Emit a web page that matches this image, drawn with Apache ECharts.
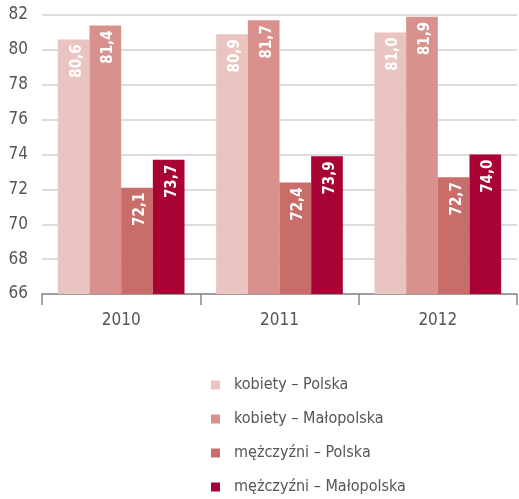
<!DOCTYPE html>
<html>
<head>
<meta charset="utf-8">
<script src="https://cdn.jsdelivr.net/npm/echarts@6/dist/echarts.min.js"></script>
<style>
  html, body { margin: 0; padding: 0; background: #fff; }
  #chart { width: 519px; height: 499px; }
</style>
</head>
<body>
<div id="chart"></div>
<script>
var years = ['2010', '2011', '2012'];
var kobietyPolska = [80.6, 80.9, 81.0];
var kobietyMalopolska = [81.4, 81.7, 81.9];
var mezczyzniPolska = [72.1, 72.4, 72.7];
var mezczyzniMalopolska = [73.7, 73.9, 74.0];
var seriesNames = ['kobiety – Polska', 'kobiety – Małopolska', 'mężczyźni – Polska', 'mężczyźni – Małopolska'];
var colors = ['#e9c4c0', '#d9918d', '#c86d69', '#a80334'];

var font = "'Liberation Sans Narrow', 'DejaVu Sans Condensed', sans-serif";

var chart = echarts.init(document.getElementById('chart'));

function makeSeries(name, data, color) {
    return {
        name: name,
        type: 'bar',
        data: data,
        barGap: '0%',
        barCategoryGap: '20%',
        itemStyle: { color: color },
        label: {
            show: true,
            position: 'insideTop',
            rotate: 90,
            align: 'right',
            verticalAlign: 'middle',
            offset: [0, 3],
            color: '#fff',
            fontFamily: font,
            fontWeight: 'bold',
            fontSize: 15,
            formatter: function (p) { return p.value.toFixed(1).replace('.', ','); }
        }
    };
}

var option = {
    animation: false,
    color: colors,
    grid: { left: 42, right: 2, top: 15, bottom: 205 },
    legend: {
        orient: 'vertical',
        left: 211,
        top: 376,
        height: 123,
        padding: 0,
        itemWidth: 9,
        itemHeight: 9,
        itemGap: 16,
        icon: 'rect',
        textStyle: { color: '#555', fontFamily: font, fontSize: 16, lineHeight: 18, padding: [0, 0, 0, 9] },
        data: seriesNames
    },
    xAxis: {
        type: 'category',
        data: years,
        axisLine: { lineStyle: { color: '#888', width: 1.5 } },
        axisTick: { show: true, length: 11, lineStyle: { color: '#888', width: 1.5 } },
        axisLabel: { color: '#555', fontFamily: font, fontSize: 17, margin: 18 }
    },
    yAxis: {
        type: 'value',
        min: 66,
        max: 82,
        interval: 2,
        axisLine: { show: false },
        axisTick: { show: false },
        axisLabel: { color: '#555', fontFamily: font, fontSize: 17, margin: 14 },
        splitLine: { lineStyle: { color: '#d0d0d0', width: 1.5 } }
    },
    series: [
        makeSeries(seriesNames[0], kobietyPolska, colors[0]),
        makeSeries(seriesNames[1], kobietyMalopolska, colors[1]),
        makeSeries(seriesNames[2], mezczyzniPolska, colors[2]),
        makeSeries(seriesNames[3], mezczyzniMalopolska, colors[3])
    ]
};

chart.setOption(option);
</script>
</body>
</html>
